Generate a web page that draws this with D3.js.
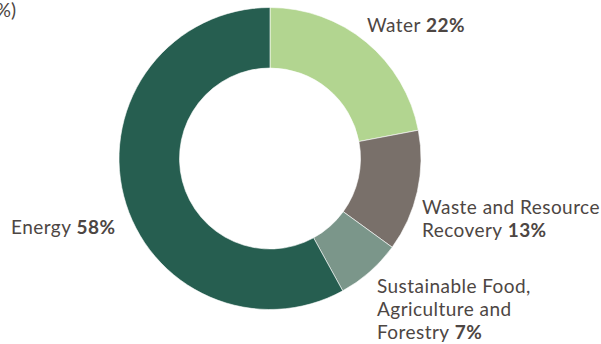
<!DOCTYPE html>
<html>
<head>
<meta charset="utf-8">
<script src="https://cdn.jsdelivr.net/npm/d3@7"></script>
<style>
  body { margin: 0; background: #fff; }
  svg { display: block; }
</style>
</head>
<body>
<div id="chart"></div>
<script>
// sectors, clockwise from 12 o'clock
const sectors = ["Water", "Waste and Resource Recovery", "Sustainable Food, Agriculture and Forestry", "Energy"];
const shares = [22, 13, 7, 58];
const colours = ["#b2d590", "#79706a", "#7b968a", "#265e50"];
// label lines (last line gets the bold value)
const labelLines = [
  ["Water"],
  ["Waste and Resource", "Recovery"],
  ["Sustainable Food,", "Agriculture and", "Forestry"],
  ["Energy"]
];

const width = 601, height = 344;
const cx = 270, cy = 158.5;
const outerR = 151, innerR = 90.5;
const textColour = "#4d4643";

// where each label block starts (x, first baseline)
const labelPos = [
  [367, 32],
  [422, 214],
  [377, 293],
  [11, 234]
];
const lineGap = 23;

const svg = d3.select("#chart").append("svg")
  .attr("width", width)
  .attr("height", height)
  .style("font-family", "Lato, 'Open Sans', sans-serif");

// cut-off title, only its tail shows
svg.append("text")
  .attr("x", 16)
  .attr("y", 17)
  .attr("text-anchor", "end")
  .attr("fill", textColour)
  .style("font-size", "19px")
  .text("(%)");

const pie = d3.pie().sort(null).value(d => d);
const arc = d3.arc().innerRadius(innerR).outerRadius(outerR);

const g = svg.append("g").attr("transform", `translate(${cx},${cy})`);

g.selectAll("path")
  .data(pie(shares))
  .join("path")
  .attr("d", arc)
  .attr("fill", (d, i) => colours[i])
  .attr("stroke", "#fff")
  .attr("stroke-width", 0.6);

const labels = svg.append("g")
  .selectAll("text")
  .data(sectors)
  .join("text")
  .attr("fill", textColour)
  .style("font-size", "19px")
  .style("letter-spacing", "0.45px");

labels.each(function (d, i) {
  const t = d3.select(this);
  const lines = labelLines[i];
  lines.forEach((line, j) => {
    t.append("tspan")
      .attr("x", labelPos[i][0])
      .attr("y", labelPos[i][1] + j * lineGap)
      .text(line);
    if (j === lines.length - 1) {
      t.append("tspan")
        .style("font-weight", "bold")
        .text(" " + shares[i] + "%");
    }
  });
});
</script>
</body>
</html>
